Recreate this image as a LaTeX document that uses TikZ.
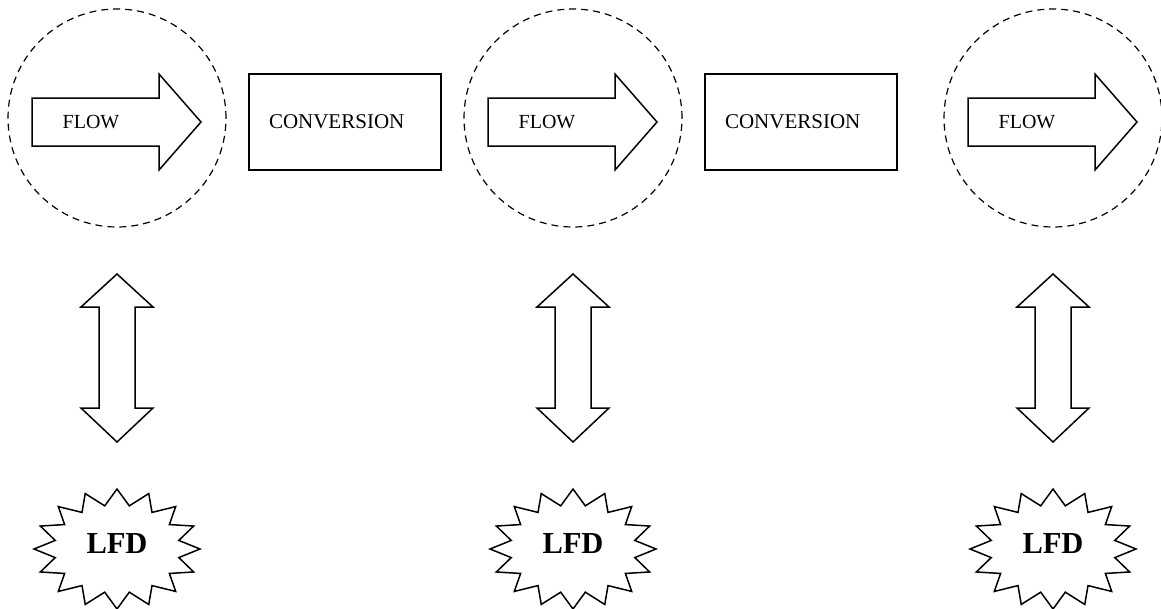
\documentclass[tikz,border=0pt]{standalone}
\usepackage{fontspec}
\setmainfont{Liberation Serif}

\begin{document}
\begin{tikzpicture}[x=1pt, y=-1pt,
    ring/.style={draw, circle, dash pattern=on 7pt off 5pt, line width=1.2pt, minimum size=218pt, inner sep=0pt},
    shapeline/.style={draw, line width=1.5pt, line join=miter},
    flowtext/.style={font=\fontsize{20}{24}\selectfont, anchor=base, inner sep=0pt},
    convbox/.style={draw, line width=1.6pt, minimum height=96pt, text width=152pt, inner xsep=20pt, align=left, font=\fontsize{21}{25}\selectfont},
    lfdtext/.style={font=\fontsize{30.5}{36}\selectfont\bfseries, anchor=base, inner sep=0pt}]
\useasboundingbox (0,0) rectangle (1161,608);

% first stage
\begin{scope}[xshift=117pt]
\node[ring] (ring1) at (0,118) {};
\draw[shapeline] (-85,98) -- (42,98) -- (42,74) -- (84,122) -- (42,170) -- (42,146) -- (-85,146) -- cycle;
\node[flowtext] (flow1) at (-26,128) {FLOW};
\draw[shapeline] (0,274) -- (36,307) -- (18,307) -- (18,408) -- (36,408) -- (0,442)
    -- (-36,408) -- (-18,408) -- (-18,307) -- (-36,307) -- cycle;
\draw[shapeline] plot[samples at={0,...,31}, variable=\k]
    ({ifthenelse(iseven(\k),83,63)*cos(\k*11.25)}, {549+ifthenelse(iseven(\k),60,44)*sin(\k*11.25)}) -- cycle;
\node[lfdtext] (lfd1) at (0,553) {LFD};
\end{scope}

% conversion between 1 and 2
\node[convbox] (conv1) at (345,122) {CONVERSION};

% second stage
\begin{scope}[xshift=573pt]
\node[ring] (ring2) at (0,118) {};
\draw[shapeline] (-85,98) -- (42,98) -- (42,74) -- (84,122) -- (42,170) -- (42,146) -- (-85,146) -- cycle;
\node[flowtext] (flow2) at (-26,128) {FLOW};
\draw[shapeline] (0,274) -- (36,307) -- (18,307) -- (18,408) -- (36,408) -- (0,442)
    -- (-36,408) -- (-18,408) -- (-18,307) -- (-36,307) -- cycle;
\draw[shapeline] plot[samples at={0,...,31}, variable=\k]
    ({ifthenelse(iseven(\k),83,63)*cos(\k*11.25)}, {549+ifthenelse(iseven(\k),60,44)*sin(\k*11.25)}) -- cycle;
\node[lfdtext] (lfd2) at (0,553) {LFD};
\end{scope}

% conversion between 2 and 3
\node[convbox] (conv2) at (801,122) {CONVERSION};

% third stage
\begin{scope}[xshift=1053pt]
\node[ring] (ring3) at (0,118) {};
\draw[shapeline] (-85,98) -- (42,98) -- (42,74) -- (84,122) -- (42,170) -- (42,146) -- (-85,146) -- cycle;
\node[flowtext] (flow3) at (-26,128) {FLOW};
\draw[shapeline] (0,274) -- (36,307) -- (18,307) -- (18,408) -- (36,408) -- (0,442)
    -- (-36,408) -- (-18,408) -- (-18,307) -- (-36,307) -- cycle;
\draw[shapeline] plot[samples at={0,...,31}, variable=\k]
    ({ifthenelse(iseven(\k),83,63)*cos(\k*11.25)}, {549+ifthenelse(iseven(\k),60,44)*sin(\k*11.25)}) -- cycle;
\node[lfdtext] (lfd3) at (0,553) {LFD};
\end{scope}
\end{tikzpicture}
\end{document}
